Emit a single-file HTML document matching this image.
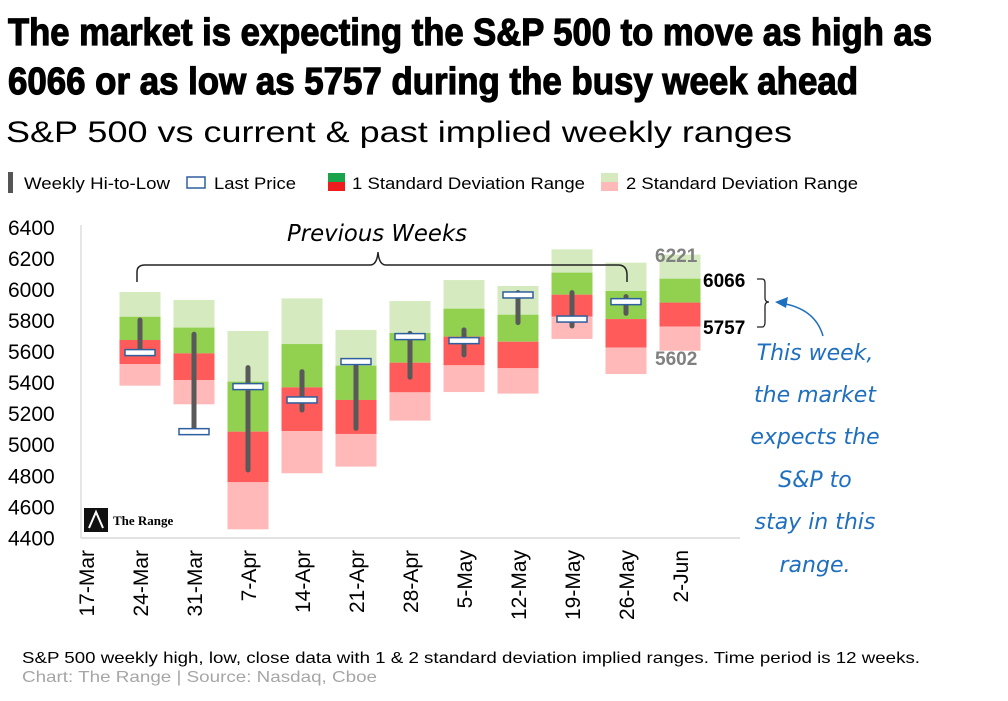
<!DOCTYPE html>
<html><head><meta charset="utf-8"><style>
html,body{margin:0;padding:0;background:#fff;}
svg{display:block;font-family:"Liberation Sans",sans-serif;}
</style></head><body>
<svg id="chart" width="1008" height="701" viewBox="0 0 1008 701" xmlns="http://www.w3.org/2000/svg">
<text x="8" y="45" font-size="38" font-weight="bold" stroke="#000" stroke-width="1.2" font-family="'Liberation Sans Narrow','Liberation Sans',sans-serif" textLength="924" lengthAdjust="spacingAndGlyphs">The market is expecting the S&amp;P 500 to move as high as</text>
<text x="8" y="94" font-size="38" font-weight="bold" stroke="#000" stroke-width="1.2" font-family="'Liberation Sans Narrow','Liberation Sans',sans-serif" textLength="850" lengthAdjust="spacingAndGlyphs">6066 or as low as 5757 during the busy week ahead</text>
<text x="6" y="142" font-size="30" textLength="786" lengthAdjust="spacingAndGlyphs">S&amp;P 500 vs current &amp; past implied weekly ranges</text>
<g>
 <g><rect x="8" y="172" width="5" height="21" fill="#555"/><text x="24" y="189" font-size="17" textLength="146" lengthAdjust="spacingAndGlyphs">Weekly Hi-to-Low</text></g>
 <g><rect x="187" y="177" width="18" height="11" fill="#fff" stroke="#2e5f9e" stroke-width="1.5"/><text x="214" y="189" font-size="17" textLength="82" lengthAdjust="spacingAndGlyphs">Last Price</text></g>
 <g><rect x="328" y="173" width="17" height="9" fill="#1aa34a"/><rect x="328" y="182" width="17" height="9" fill="#ee1c1c"/><text x="352" y="189" font-size="17" textLength="233" lengthAdjust="spacingAndGlyphs">1 Standard Deviation Range</text></g>
 <g><rect x="601" y="173" width="17" height="9" fill="#d5ebbf"/><rect x="601" y="182" width="17" height="9" fill="#ffb9b9"/><text x="626" y="189" font-size="17" textLength="232" lengthAdjust="spacingAndGlyphs">2 Standard Deviation Range</text></g>
</g>
<line x1="81" y1="225" x2="81" y2="538" stroke="#ddd" stroke-width="1.5"/>
<line x1="81" y1="538" x2="740" y2="538" stroke="#d9d9d9" stroke-width="1.5"/>
<g id="yticks"></g>
<g id="xticks"></g>
<g id="marks"></g>
<g fill="none" stroke="#222" stroke-width="1.5">
 <path d="M137 282 V272 Q137 265 145 265 H370 Q377 265 378 252 Q379 265 386 265 H618 Q627 265 627 275 V282"/>
</g>
<text x="287" y="241" font-size="23" font-family="'DejaVu Sans',cursive" font-style="italic" textLength="180" lengthAdjust="spacingAndGlyphs">Previous Weeks</text>
<text x="655" y="262" font-size="19" font-weight="bold" fill="#808080">6221</text>
<text x="703" y="287" font-size="19" font-weight="bold" fill="#000">6066</text>
<text x="703" y="334" font-size="19" font-weight="bold" fill="#000">5757</text>
<text x="655" y="365" font-size="19" font-weight="bold" fill="#808080">5602</text>
<path d="M757 279 H762 Q765 279 765 283 V298 Q765 302 769 302 Q765 302 765 306 V322 Q765 327 762 327 H757" fill="none" stroke="#222" stroke-width="1.3"/>
<path d="M823 336 Q815 308 780 303" fill="none" stroke="#1f6fbf" stroke-width="1.5"/>
<path d="M775 302 L788 297 L786 308 Z" fill="#1f6fbf"/>
<g font-size="22" font-family="'DejaVu Sans',cursive" font-style="italic" fill="#1f6fbf" text-anchor="middle">
 <text x="815" y="360">This week,</text>
 <text x="815" y="402">the market</text>
 <text x="815" y="444">expects the</text>
 <text x="815" y="487">S&amp;P to</text>
 <text x="815" y="529">stay in this</text>
 <text x="815" y="572">range.</text>
</g>
<g>
 <rect x="84" y="508" width="24" height="24" fill="#111"/>
 <path d="M89 528 L96 512 L103 528" stroke="#fff" stroke-width="2" fill="none"/>
 <text x="113" y="525" font-size="13" font-weight="bold" font-family="'Liberation Serif',serif">The Range</text>
</g>
<text x="22" y="663" font-size="16" textLength="898" lengthAdjust="spacingAndGlyphs">S&amp;P 500 weekly high, low, close data with  1 &amp; 2 standard deviation implied ranges. Time period is 12 weeks.</text>
<text x="22" y="682" font-size="16" fill="#a6a6a6" textLength="355" lengthAdjust="spacingAndGlyphs">Chart: The Range | Source: Nasdaq, Cboe</text>
</svg>
<script>
const categories = ["17-Mar","24-Mar","31-Mar","7-Apr","14-Apr","21-Apr","28-Apr","5-May","12-May","19-May","26-May","2-Jun"];
const yTicks = [6400,6200,6000,5800,5600,5400,5200,5000,4800,4600,4400];
// per-week series (null = no data)
const sd2High = [null,5980,5929,5729,5939,5736,5922,6057,6019,6255,6169,6221];
const sd1High = [null,5821,5751,5403,5645,5506,5716,5873,5834,6105,5987,6066];
const midLine = [null,5671,5585,5081,5366,5285,5525,5693,5660,5963,5806,5912];
const sd1Low  = [null,5515,5412,4755,5085,5066,5334,5508,5489,5821,5622,5757];
const sd2Low  = [null,5377,5257,4452,4813,4856,5152,5336,5326,5678,5452,5602];
const weekHigh = [null,5800,5708,5493,5467,5532,5714,5736,5976,5976,5950,null];
const weekLow  = [null,5590,5092,4834,5220,5102,5431,5575,5783,5761,5843,null];
const lastPrice = [null,5590,5081,5371,5285,5532,5693,5667,5961,5806,5918,null];

const NS="http://www.w3.org/2000/svg";
const y = v => 226.8 + (6400 - v) * 0.1553;
const x = i => 86 + 54 * i;
function mk(tag, attrs, parent){const e=document.createElementNS(NS,tag);for(const k in attrs)e.setAttribute(k,attrs[k]);parent.appendChild(e);return e;}
const yt=document.getElementById('yticks'), xt=document.getElementById('xticks'), mg=document.getElementById('marks');
yTicks.forEach(v=>{
  const t=mk('text',{x:8,y:y(v)+8,'font-size':21},yt);
  
  
  t.textContent=v;
});
categories.forEach((c,i)=>{
  const t=mk('text',{x:0,y:0,'font-size':21,'text-anchor':'end',transform:`translate(${x(i)+8},550) rotate(-90)`},xt);
  
  
  t.textContent=c;
});
const bw=41;
function band(i,top,bot,fill,name){
  const r=mk('rect',{x:x(i)-bw/2,y:y(top),width:bw,height:y(bot)-y(top),fill:fill},mg);
  
  
}
categories.forEach((c,i)=>{
  if(sd2High[i]==null) return;
  band(i,sd2High[i],sd1High[i],'#d5ebbf','sd2-upper-band');
  band(i,sd1High[i],midLine[i],'#92d050','sd1-upper-band');
  band(i,midLine[i],sd1Low[i],'#ff5b5b','sd1-lower-band');
  band(i,sd1Low[i],sd2Low[i],'#ffb9b9','sd2-lower-band');
  if(weekHigh[i]!=null){
    const l=mk('line',{x1:x(i),x2:x(i),y1:y(weekHigh[i]),y2:y(weekLow[i]),stroke:'#595959','stroke-width':5,'stroke-linecap':'round'},mg);
    
    
  }
  if(lastPrice[i]!=null){
    const r=mk('rect',{x:x(i)-15,y:y(lastPrice[i])-3,width:30,height:6,fill:'#fff',stroke:'#2e5f9e','stroke-width':1.5},mg);
    
    
  }
});
</script>
</body></html>
